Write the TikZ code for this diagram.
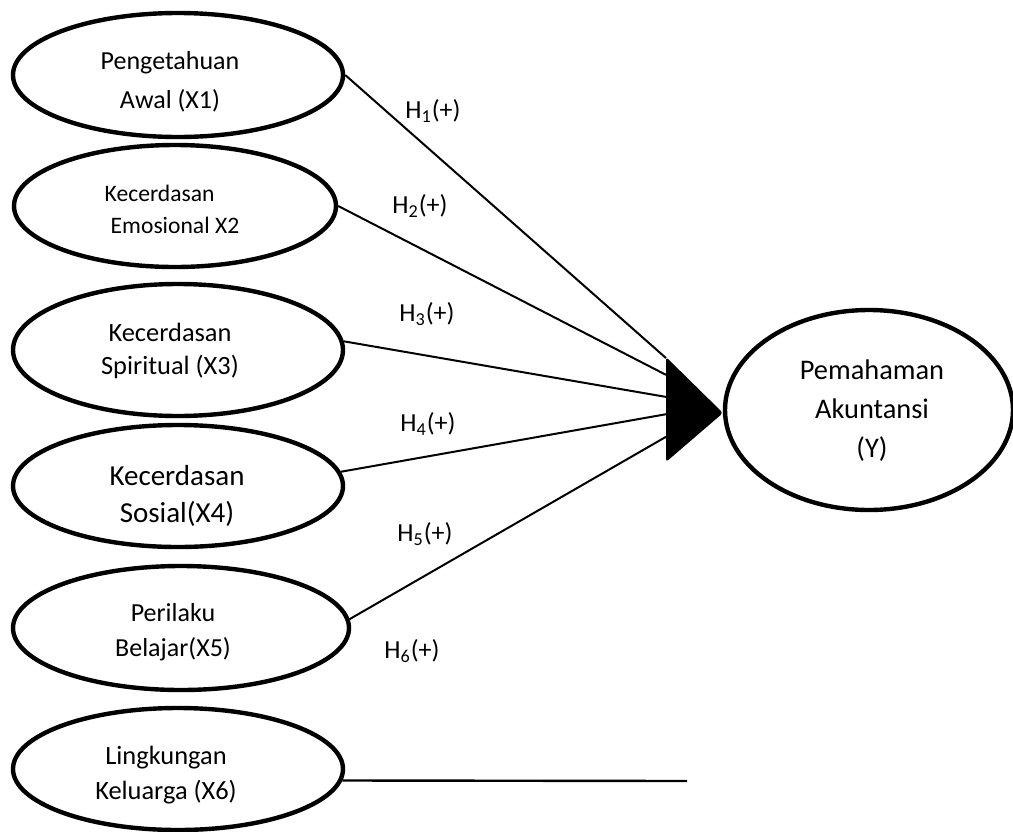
\documentclass[tikz,border=0pt]{standalone}
\usepackage{fontspec}
\setmainfont{Carlito}
\usetikzlibrary{shapes.geometric,calc}
\begin{document}
\begin{tikzpicture}[x=0.5pt,y=-0.5pt,
  var/.style={draw,ellipse,line width=2.2pt,inner sep=0pt},
  lbl/.style={align=center,inner sep=0pt},
  link/.style={line width=1pt},
  hyp/.style={font=\fontsize{13}{16}\selectfont,inner sep=0pt}]
\useasboundingbox (0,0) rectangle (1013,831);
% latent variables
\node[var,minimum width=165pt,minimum height=62pt] (e1) at (178,75) {};
\node[var,minimum width=161pt,minimum height=61pt] (e2) at (175,206) {};
\node[var,minimum width=165pt,minimum height=66pt] (e3) at (178,350) {};
\node[var,minimum width=165pt,minimum height=61pt] (e4) at (178,486) {};
\node[var,minimum width=168pt,minimum height=62pt] (e5) at (181,628) {};
\node[var,minimum width=165pt,minimum height=61pt] (e6) at (178,769) {};
\node[var,minimum width=144pt,minimum height=100pt] (y) at (869,410) {};
% texts
\node[lbl,font=\fontsize{13}{19.5}\selectfont] (t1) at (170,82) {Pengetahuan\\Awal (X1)};
\node[lbl,align=left,font=\fontsize{11.8}{16}\selectfont] (t2) at (172,209) {Kecerdasan\\\hspace*{3pt}Emosional X2};
\node[lbl,font=\fontsize{13.2}{16.5}\selectfont] (t3) at (170,351) {Kecerdasan\\Spiritual (X3)};
\node[lbl,font=\fontsize{14.5}{18.5}\selectfont] (t4) at (177,496) {Kecerdasan\\Sosial(X4)};
\node[lbl,font=\fontsize{13}{17.5}\selectfont] (t5) at (173,632) {Perilaku\\Belajar(X5)};
\node[lbl,font=\fontsize{13.2}{17.5}\selectfont] (t6) at (166,775) {Lingkungan\\Keluarga (X6)};
\node[lbl,font=\fontsize{14.2}{19.5}\selectfont] (ty) at (872,411) {Pemahaman\\Akuntansi\\(Y)};
% arrowhead
\coordinate (ta) at (666,357);
\coordinate (tb) at (666,462);
\coordinate (tc) at (723,413);
\fill[rounded corners=1.5pt] (ta) -- (tb) -- (tc) -- cycle;
\coordinate (c1) at ($(ta)!0.01!(tb)$);
\coordinate (c2) at ($(ta)!0.17!(tb)$);
\coordinate (c3) at ($(ta)!0.38!(tb)$);
\coordinate (c4) at ($(ta)!0.545!(tb)$);
\coordinate (c5) at ($(ta)!0.76!(tb)$);
\coordinate (c6) at (687,781);
% paths
\draw[link] (e1.east) -- (c1);
\draw[link] (e2.east) -- (c2);
\draw[link] (e3.3) -- (c3);
\draw[link] (e4.5.6) -- (c4);
\draw[link] (e5.3.8) -- (c5);
\draw[link,line width=1.2pt] (e6.-4) -- (c6);
% hypothesis labels
\node[hyp] (h1) at (433,111) {H\textsubscript{1}(+)};
\node[hyp] (h2) at (420,206) {H\textsubscript{2}(+)};
\node[hyp] (h3) at (427,314) {H\textsubscript{3}(+)};
\node[hyp] (h4) at (428,424) {H\textsubscript{4}(+)};
\node[hyp] (h5) at (425,534) {H\textsubscript{5}(+)};
\node[hyp] (h6) at (412,651) {H\textsubscript{6}(+)};
\end{tikzpicture}
\end{document}
